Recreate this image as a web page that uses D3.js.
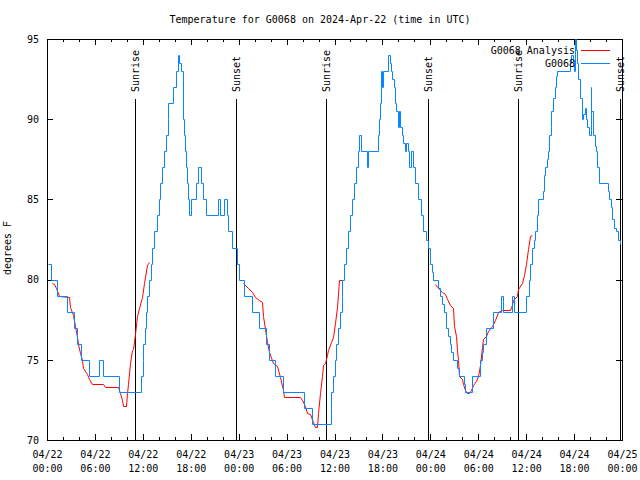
<!DOCTYPE html>
<html>
<head>
<title>G0068 temperature</title>
<style>
body { margin: 0; background: white; }
text {
    font-family: "DejaVu Sans Mono", monospace;
    font-size: 10px;
    fill: black;
}
.axis line, .sun line, rect.border {
    stroke: black;
    shape-rendering: crispEdges;
}
.axis path.domain { display: none; }
path.series {
    fill: none;
    stroke-width: 1;
}
</style>
</head>
<body>
<div id="chart"></div>
<script src="https://cdn.jsdelivr.net/npm/d3@7"></script>
<script>
    // hours after 2024-04-22 00:00 UTC, temperature in F
    var observed = [
        [0.16,81],[0.56,80],[1.19,79],[2.5,78],[3.32,77],[3.76,76],[4.26,75],[5.26,74],[6.47,75],[7.01,74],
        [9.02,73],[11.77,74],[11.96,75],[12.08,76],[12.27,77],[12.4,78],[12.58,79],[12.77,80],[12.96,81],[13.15,82],
        [13.46,83],[13.77,84],[14.02,85],[14.21,86],[14.4,87],[14.71,88],[14.9,89],[15.09,90],[15.19,91],[15.78,92],
        [16.15,93],[16.4,94],[16.57,93.5],[16.72,93],[17.03,90],[17.16,89],[17.28,88],[17.41,87],[17.51,86],[17.66,85],
        [17.84,84],[18.09,85],[18.6,86],[18.85,87],[19.28,86],[19.53,85],[19.91,84],[21.35,85],[21.72,84],[22.16,85],
        [22.54,84],[22.7,83],[23.17,82],[23.79,81],[24.1,80],[24.67,79],[25.61,78],[26.52,77],[27.42,76],[27.74,75],
        [28.55,74],[29.55,73],[32.12,72],[33.12,71],[35.5,72],[35.62,73],[35.81,74],[36.06,75],[36.25,76],[36.44,77],
        [36.69,78],[36.88,79],[37.0,80],[37.19,81],[37.44,82],[37.69,83],[38.0,84],[38.19,85],[38.44,86],[38.75,87],
        [38.94,88],[39.07,89],[39.26,88],[40.01,87],[40.2,88],[41.45,89],[41.55,90],[41.64,91],[41.76,93],[41.95,92],
        [42.07,93],[42.64,94],[42.89,93.5],[43.08,93],[43.26,92.5],[43.45,92],[43.58,91],[43.76,90.5],[43.89,89.5],[44.08,90.5],
        [44.2,89.5],[44.39,89],[44.58,88.5],[44.77,88],[44.95,88.5],[45.2,88],[45.39,87],[45.58,88],[45.77,87],[46.02,86],
        [46.46,85],[46.83,84],[47.08,83],[47.46,82.5],[47.77,82],[47.96,81],[48.21,80.5],[48.33,80],[48.96,79.5],[49.21,79],
        [49.46,78.5],[49.71,78],[50.02,77],[50.21,76.5],[50.4,76],[50.65,75.5],[50.84,75],[51.4,74.5],[51.59,74],[52.19,73.5],
        [52.34,73],[53.16,74],[54.16,75],[54.41,75.5],[54.6,76],[54.91,77],[55.85,78],[56.89,79],[57.16,78],[58.23,79],
        [58.52,78],[59.95,79],[60.36,80],[60.49,81],[60.67,82],[60.92,82.5],[61.11,83],[61.3,84],[61.49,85],[62.11,85.5],
        [62.23,86.5],[62.36,87],[62.55,87.5],[62.73,88],[62.92,89],[63.05,89.5],[63.17,90.5],[63.36,91.3],[63.55,92],[63.74,92.7],
        [63.92,93],[65.43,93.5],[65.61,94],[65.86,93.7],[65.99,93],[66.08,95],[66.24,94.3],[66.36,93.5],[66.55,92.5],[66.75,91.3],
        [66.93,90],[67.12,90.3],[67.31,90.7],[67.49,90],[67.62,89.5],[67.81,89],[68.06,92],[68.18,90.5],[68.37,89],[68.56,88.3],
        [68.75,88],[68.93,87],[69.18,86],[70.25,85.5],[70.43,85],[70.62,84.5],[70.81,83.8],[71.06,83.2],[71.31,83],[71.5,82.5],
        [71.75,82.2],[71.8,82.2]
    ];
    var analysisNight1 = [
        [0.59,79.8],[0.88,79.7],[1.13,79.5],[1.54,79.0],[2.79,78.9],[2.94,78.3],[3.29,77.8],[3.51,77.1],[3.72,76.4],[3.94,76.0],
        [4.13,75.4],[4.32,75.0],[4.55,74.5],[4.97,74.1],[5.2,73.8],[5.6,73.5],[7.05,73.5],[7.26,73.3],[8.93,73.3],[9.14,72.9],
        [9.33,72.5],[9.55,72.1],[9.83,72.1],[9.98,72.9],[10.18,73.5],[10.39,74.8],[10.61,75.6],[10.83,75.7],[11.02,76.6],[11.23,77.7],
        [11.56,78.2],[11.86,78.9],[12.15,79.8],[12.48,80.9],[12.77,81.1]
    ];
    var analysisNight2 = [
        [24.54,79.8],[25.21,79.5],[25.63,79.2],[26.05,78.9],[26.58,78.7],[26.88,78.6],[27.09,77.7],[27.3,76.9],[27.51,76.1],[27.84,75.5],
        [28.34,74.8],[28.84,74.6],[29.18,73.9],[29.51,73.1],[29.71,72.7],[31.68,72.7],[31.89,72.5],[32.31,72.1],[32.6,71.7],[32.93,71.6],
        [33.27,71.1],[33.56,70.8],[33.85,70.8],[33.97,71.7],[34.19,72.9],[34.4,74.0],[34.6,74.7],[34.81,74.8],[35.02,75.3],[35.22,75.6],
        [35.56,76.1],[35.85,76.4],[36.06,77.3],[36.27,78.3],[36.48,79.1],[36.6,80.0],[36.9,80.0]
    ];
    var analysisNight3 = [
        [48.58,79.7],[49.12,79.4],[49.42,79.25],[49.84,79.1],[50.12,78.8],[50.46,78.4],[50.8,78.2],[51.0,77.1],[51.18,76.5],[51.3,75.6],
        [51.5,75.0],[51.63,74.0],[51.93,73.8],[52.13,73.5],[52.34,73.1],[52.55,72.9],[52.84,72.9],[53.05,73.1],[53.38,73.4],[53.72,73.7],
        [54.0,74.0],[54.22,74.7],[54.43,75.8],[54.63,76.3],[54.93,76.5],[55.26,76.8],[55.69,77.1],[56.1,77.5],[56.51,78.0],[56.94,78.1],
        [57.98,78.1],[58.19,78.4],[58.39,78.7],[58.82,79.0],[59.02,79.4],[59.44,79.8],[59.73,80.3],[59.98,81.0],[60.27,81.9],[60.49,82.7],
        [60.77,82.8]
    ];
    var sunTimes = ["2024-04-22T11:00Z", "2024-04-22T23:40Z", "2024-04-23T10:58Z",
                    "2024-04-23T23:41Z", "2024-04-24T10:57Z", "2024-04-24T23:42Z"];
    var sunLabels = ["Sunrise", "Sunset", "Sunrise", "Sunset", "Sunrise", "Sunset"];
    var yTicks = [70, 75, 80, 85, 90, 95];
    var seriesNames = ["G0068 Analysis", "G0068"];
    var seriesColors = ["#ff0000", "#0a84ff"];

    var dimensions = { width: 640, height: 480 };
    var margins = { top: 39, right: 18, bottom: 40, left: 47 };
    var start = new Date(Date.UTC(2024, 3, 22));
    var end = new Date(Date.UTC(2024, 3, 25));
    function toDate(h) { return new Date(start.getTime() + h * 3600000); }

    var xscale = d3.scaleUtc()
        .domain([start, end])
        .range([margins.left, dimensions.width - margins.right]);
    var yscale = d3.scaleLinear()
        .domain([70, 95])
        .range([dimensions.height - margins.bottom, margins.top]);

    var svg = d3.select("#chart")
        .append("svg")
        .attr("width", dimensions.width)
        .attr("height", dimensions.height);

    svg.append("text")
        .attr("x", 320)
        .attr("y", 23)
        .attr("text-anchor", "middle")
        .text("Temperature for G0068 on 2024-Apr-22 (time in UTC)");

    svg.append("text")
        .attr("transform", "translate(11, 248) rotate(-90)")
        .attr("text-anchor", "middle")
        .text("degrees F");

    var bottomY = dimensions.height - margins.bottom;
    var rightX = dimensions.width - margins.right;

    // minor ticks every 2h, major every 6h (bottom and top)
    svg.append("g").attr("class", "axis")
        .attr("transform", "translate(0," + bottomY + ")")
        .call(d3.axisBottom(xscale).ticks(d3.utcHour.every(2)).tickSize(-3).tickFormat(""));
    svg.append("g").attr("class", "axis")
        .attr("transform", "translate(0," + margins.top + ")")
        .call(d3.axisTop(xscale).ticks(d3.utcHour.every(2)).tickSize(-3).tickFormat(""));
    svg.append("g").attr("class", "axis")
        .attr("transform", "translate(0," + margins.top + ")")
        .call(d3.axisTop(xscale).ticks(d3.utcHour.every(6)).tickSize(-6).tickFormat(""));
    var gx = svg.append("g").attr("class", "axis")
        .attr("transform", "translate(0," + bottomY + ")")
        .call(d3.axisBottom(xscale).ticks(d3.utcHour.every(6)).tickSize(-6));
    var fmtDay = d3.utcFormat("%m/%d"), fmtTime = d3.utcFormat("%H:%M");
    gx.selectAll(".tick text").each(function(d) {
        var t = d3.select(this).text(null).attr("dy", null).attr("y", null);
        t.append("tspan").attr("x", 0).attr("y", 18).text(fmtDay(d));
        t.append("tspan").attr("x", 0).attr("y", 32).text(fmtTime(d));
    });

    svg.append("g").attr("class", "axis")
        .attr("transform", "translate(" + margins.left + ",0)")
        .call(d3.axisLeft(yscale).tickValues(yTicks).tickSize(-6).tickPadding(8));
    svg.append("g").attr("class", "axis")
        .attr("transform", "translate(" + rightX + ",0)")
        .call(d3.axisRight(yscale).tickValues(yTicks).tickSize(-6).tickFormat(""));

    svg.append("rect")
        .attr("class", "border")
        .attr("x", margins.left + 0.5)
        .attr("y", margins.top + 0.5)
        .attr("width", rightX - margins.left)
        .attr("height", bottomY - margins.top)
        .attr("fill", "none");

    // sunrise / sunset markers
    var gsun = svg.append("g").attr("class", "sun");
    sunTimes.forEach(function(s, i) {
        var x = Math.round(xscale(new Date(s))) + 0.5;
        gsun.append("line")
            .attr("x1", x).attr("x2", x)
            .attr("y1", 99).attr("y2", bottomY);
        gsun.append("text")
            .attr("transform", "translate(" + (x + 3.5) + ",92) rotate(-90)")
            .text(sunLabels[i]);
    });

    // snap to pixel centres so 1px lines stay sharp
    function px(v) { return Math.round(v) + 0.5; }
    var line = d3.line()
        .x(function(d) { return px(xscale(toDate(d[0]))); })
        .y(function(d) { return px(yscale(d[1])); });
    var stepLine = d3.line()
        .curve(d3.curveStepAfter)
        .x(function(d) { return px(xscale(toDate(d[0]))); })
        .y(function(d) { return px(yscale(d[1])); });

    [analysisNight1, analysisNight2, analysisNight3].forEach(function(seg) {
        svg.append("path")
            .attr("class", "series")
            .attr("stroke", seriesColors[0])
            .attr("d", line(seg));
    });
    svg.append("path")
        .attr("class", "series")
        .attr("stroke", seriesColors[1])
        .attr("d", stepLine(observed));

    // key
    var gkey = svg.append("g");
    seriesNames.forEach(function(name, i) {
        var y = 50 + i * 13;
        gkey.append("text")
            .attr("x", 575)
            .attr("y", y + 4)
            .attr("text-anchor", "end")
            .text(name);
        gkey.append("line")
            .attr("x1", 581).attr("x2", 610)
            .attr("y1", y + 0.5).attr("y2", y + 0.5)
            .attr("stroke", seriesColors[i])
            .attr("shape-rendering", "crispEdges");
    });
</script>
</body>
</html>
